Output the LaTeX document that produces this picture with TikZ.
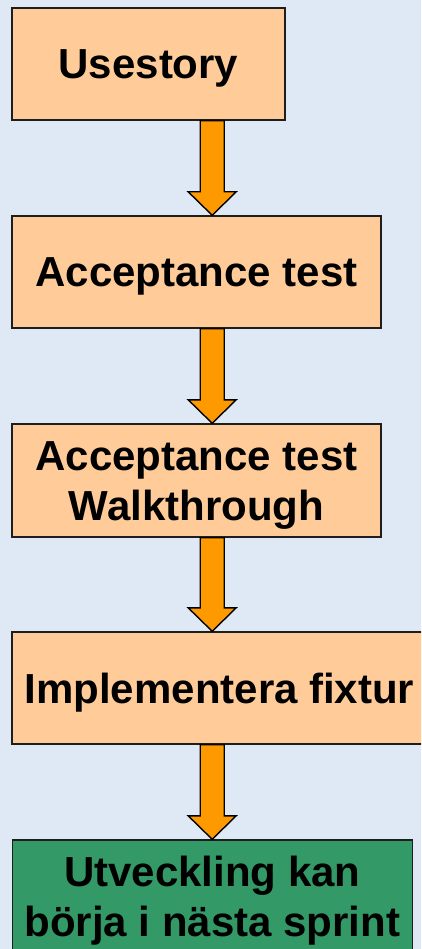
\documentclass[tikz,border=0pt]{standalone}
\usepackage{fontspec}
\setmainfont{Liberation Sans}
\usetikzlibrary{calc}
\definecolor{bgblue}{RGB}{223,233,245}
\definecolor{boxorange}{RGB}{255,204,153}
\definecolor{arroworange}{RGB}{255,153,0}
\definecolor{boxgreen}{RGB}{51,153,102}
\definecolor{edgegray}{RGB}{30,30,30}
\tikzset{
  flowbox/.style={draw=edgegray, line width=1.4pt, fill=boxorange, rectangle,
    minimum height=112pt, inner sep=0pt, align=center,
    font={\fontsize{42}{50}\selectfont\bfseries},
    text height=30pt, text depth=0pt},
  twoline/.style={text height=80pt, text depth=0pt},
  greenbox/.style={fill=boxgreen},
  fatarrow/.style={draw=black, line width=1.4pt, fill=arroworange, line join=miter}
}
\newcommand\flowarrow[2]{%
  \path[fatarrow]
    ([xshift=-12pt]ax |- #1.south) --
    ([xshift=-12pt,yshift=23.5pt]ax |- #2.north) --
    ([xshift=-24pt,yshift=23.5pt]ax |- #2.north) --
    (ax |- #2.north) --
    ([xshift=24pt,yshift=23.5pt]ax |- #2.north) --
    ([xshift=12pt,yshift=23.5pt]ax |- #2.north) --
    ([xshift=12pt]ax |- #1.south) -- cycle;}
\begin{document}
\begin{tikzpicture}[x=1pt,y=-1pt]
  \useasboundingbox (0,0) rectangle (421,949);
  \clip (0,0) rectangle (421,949);
  \fill[bgblue] (0,0) rectangle (421,949);
  \coordinate (ax) at (212.2,0);
  \node[flowbox, minimum width=273pt] (b1) at (148.5,64) {Usestory};
  \node[flowbox, minimum width=369pt] (b2) at (196.5,272) {Acceptance test};
  \node[flowbox, twoline, minimum width=369pt, minimum height=113pt] (b3) at (196.5,480.5) {Acceptance test\\Walkthrough};
  \node[flowbox, minimum width=415pt] (b4) at (219.5,688) {Implementera fixtur};
  \node[flowbox, twoline, greenbox, minimum width=400pt] (b5) at (212.3,896) {Utveckling kan\\börja i nästa sprint};
  \flowarrow{b1}{b2}
  \flowarrow{b2}{b3}
  \flowarrow{b3}{b4}
  \flowarrow{b4}{b5}
\end{tikzpicture}
\end{document}
